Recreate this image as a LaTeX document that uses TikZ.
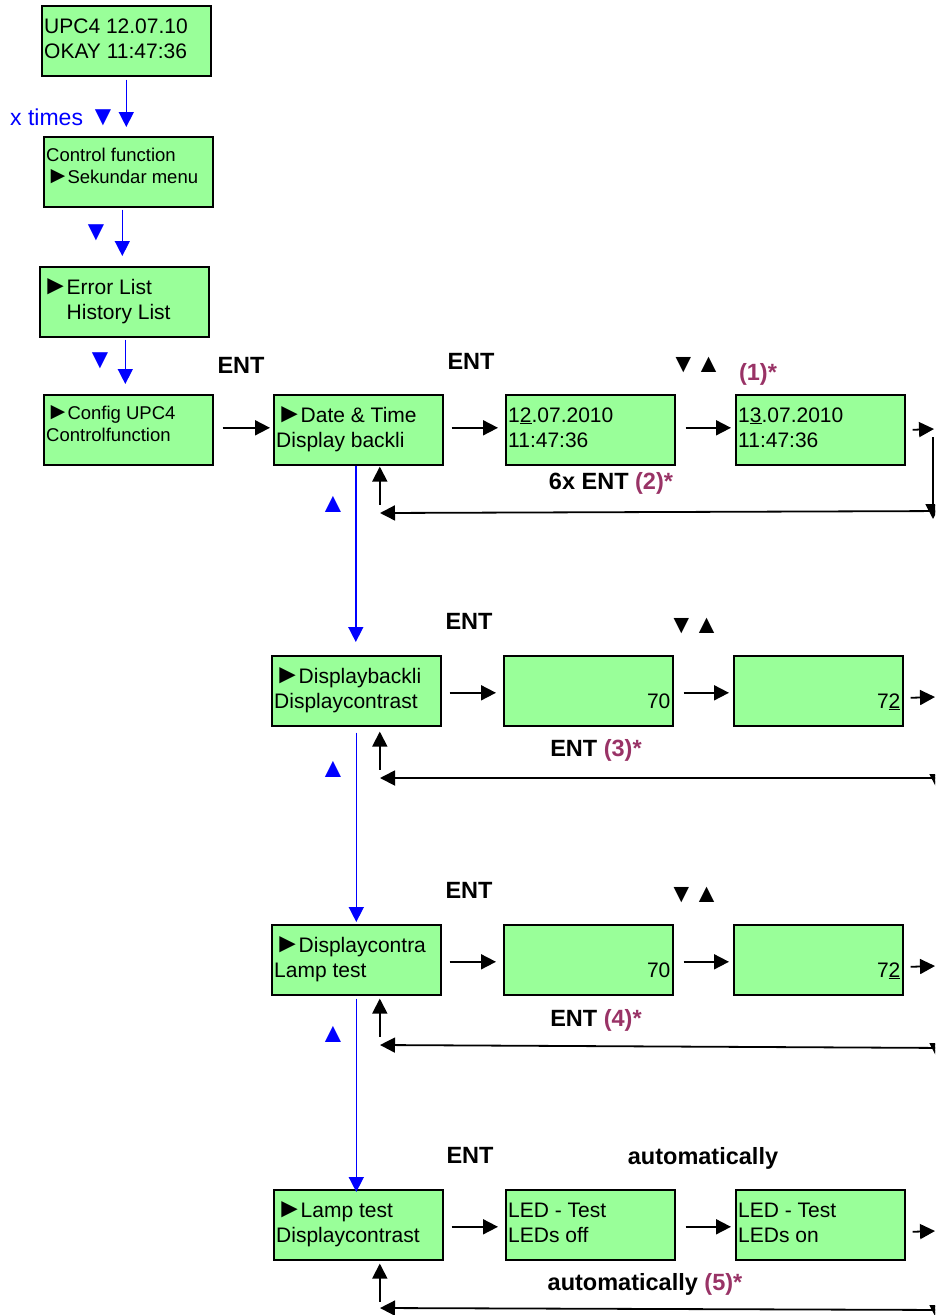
\documentclass[tikz,border=0pt]{standalone}
\usepackage{fontspec}
\setmainfont{Liberation Sans}
\usetikzlibrary{arrows.meta}

\definecolor{lcdgreen}{RGB}{153,255,153}
\definecolor{notecol}{RGB}{153,51,102}

\tikzset{
  lcd/.style={draw, line width=1.6pt, fill=lcdgreen, minimum width=169pt,
    minimum height=70pt, inner sep=0pt, anchor=north west},
  bigtext/.style={font=\fontsize{21}{25}\selectfont, inner sep=0pt, anchor=base west},
  smalltext/.style={font=\fontsize{18.5}{22}\selectfont, inner sep=0pt, anchor=base west},
  keylabel/.style={font=\fontsize{23.5}{27}\selectfont\bfseries, inner sep=0pt, anchor=base},
  bluemark/.style={text=blue, font=\fontsize{23}{25}\selectfont, inner sep=0pt, anchor=base},
  flow/.style={line width=1.8pt, -{Triangle[length=15pt,width=15pt]}},
  returnline/.style={line width=1.8pt, -{Triangle[length=15pt,width=15pt]}},
  navarrow/.style={blue, line width=1.5pt, -{Triangle[length=15pt,width=15pt]}},
}

% enlarged pointer and arrow-key glyphs
\newcommand\tri[2][1.2]{\scalebox{#1}{#2}}
\newcommand\pointer{\tri[1.3]{►}\kern-2.5pt}
\newcommand\updown{\tri[1.12]{▼}\kern-1pt\tri[1.12]{▲}}

% LCD screen with two lines of text (large or small characters)
\newcommand\lcdbig[4]{%
  \node[lcd] (#1) at (#2) {};
  \node[bigtext] (#1-1) at ([xshift=3pt,yshift=-28pt]#1.north west) {#3};
  \node[bigtext] (#1-2) at ([xshift=3pt,yshift=-53pt]#1.north west) {#4};
}
\newcommand\lcdsmall[4]{%
  \node[lcd] (#1) at (#2) {};
  \node[smalltext] (#1-1) at ([xshift=3pt,yshift=-25pt]#1.north west) {#3};
  \node[smalltext] (#1-2) at ([xshift=3pt,yshift=-47pt]#1.north west) {#4};
}
% LCD screen with one value in the lower right corner
\newcommand\lcdvalue[3]{%
  \node[lcd] (#1) at (#2) {};
  \node[bigtext, anchor=base east] (#1-v) at ([xshift=-3pt,yshift=-53pt]#1.north east) {#3};
}

\begin{document}
\begin{tikzpicture}[x=1pt, y=-1pt]
\useasboundingbox (0,0) rectangle (935,1315);
\clip (0,0) rectangle (935,1315);

% ---------- main menu column ----------
\lcdbig{A}{41,5}{UPC4 12.07.10}{OKAY 11:47:36}
\lcdsmall{B}{43,136}{Control function}{\pointer Sekundar menu}
\lcdbig{C}{39,266}{\pointer Error List}{\phantom{\pointer}History List}
\lcdsmall{D}{43,394}{\pointer Config UPC4}{Controlfunction}

\node[bluemark, anchor=base west] (xtimes) at (10,125) {x times \tri{▼}};
\node[bluemark] (dnB) at (96,240) {\tri{▼}};
\node[bluemark] (dnC) at (100,368) {\tri{▼}};

\draw[navarrow] ([yshift=-3pt]A.south) -- ([xshift=-2pt,yshift=9pt]B.north);
\draw[navarrow] ([xshift=-6pt,yshift=-2pt]B.south) -- ([xshift=-2pt,yshift=10pt]C.north);
\draw[navarrow] ([xshift=1pt,yshift=-2pt]C.south) -- ([xshift=-3pt,yshift=10pt]D.north);

% ---------- row 1: date and time ----------
\lcdbig{E}{273,394}{\pointer Date \& Time}{Display backli}
\lcdbig{F}{505,394}{1\underline{2}.07.2010}{11:47:36}
\lcdbig{G}{735,394}{1\underline{3}.07.2010}{11:47:36}

\node[keylabel] (ent1) at (241,373) {ENT};
\node[keylabel] (ent2) at (471,369) {ENT};
\node[keylabel] (ud1) at (696,372) {\updown};
\node[keylabel, text=notecol] (n1) at (758,380) {(1)*};
\node[keylabel] (ret1) at (611,489) {6x ENT \textcolor{notecol}{(2)*}};

\draw[flow] ([xshift=9pt,yshift=2pt]D.east) -- ([xshift=-3pt,yshift=2pt]E.west);
\draw[flow] ([xshift=8pt,yshift=2pt]E.east) -- ([xshift=-7pt,yshift=2pt]F.west);
\draw[flow] ([xshift=10pt,yshift=2pt]F.east) -- ([xshift=-4pt,yshift=2pt]G.west);
\coordinate (G-out) at (934,429);
\draw[flow] ([xshift=7pt]G.east) -- (G-out);
\coordinate (r1-top) at (933,437);
\coordinate (r1-bot) at (933,519);
\draw[returnline] (r1-top) -- (r1-bot);
\coordinate (r1-start) at (950,511);
\coordinate (r1-end) at (380,513);
\draw[returnline] (r1-start) -- (r1-end);
\draw[flow] ([xshift=21.5pt,yshift=-39pt]E.south) -- ([xshift=21.5pt,yshift=-1pt]E.south);

% ---------- row 2: display backlight ----------
\lcdbig{H}{271,655}{\pointer Displaybackli}{Displaycontrast}
\lcdvalue{I}{503,655}{70}
\lcdvalue{J}{733,655}{7\underline{2}}

\node[keylabel] (ent3) at (469,629) {ENT};
\node[keylabel] (ud2) at (694,633) {\updown};
\node[keylabel] (ret2) at (596,756) {ENT \textcolor{notecol}{(3)*}};

\draw[flow] ([xshift=8pt,yshift=-2pt]H.east) -- ([xshift=-7pt,yshift=-2pt]I.west);
\draw[flow] ([xshift=10pt,yshift=-2pt]I.east) -- ([xshift=-4pt,yshift=-2pt]J.west);
\coordinate (J-out) at (935,697);
\draw[flow] ([xshift=7pt,yshift=-7pt]J.east) -- (J-out);
\coordinate (r2-top) at (937,705);
\coordinate (r2-bot) at (937,789);
\draw[returnline] (r2-top) -- (r2-bot);
\coordinate (r2-start) at (950,778);
\coordinate (r2-end) at (380,778);
\draw[returnline] (r2-start) -- (r2-end);
\draw[flow] ([xshift=23.5pt,yshift=-43pt]H.south) -- ([xshift=23.5pt,yshift=-5pt]H.south);

% ---------- row 3: display contrast ----------
\lcdbig{K}{271,924}{\pointer Displaycontra}{Lamp test}
\lcdvalue{L}{503,924}{70}
\lcdvalue{M}{733,924}{7\underline{2}}

\node[keylabel] (ent4) at (469,898) {ENT};
\node[keylabel] (ud3) at (694,902) {\updown};
\node[keylabel] (ret3) at (596,1026) {ENT \textcolor{notecol}{(4)*}};

\draw[flow] ([xshift=8pt,yshift=-2pt]K.east) -- ([xshift=-7pt,yshift=-2pt]L.west);
\draw[flow] ([xshift=10pt,yshift=-2pt]L.east) -- ([xshift=-4pt,yshift=-2pt]M.west);
\coordinate (M-out) at (935,966);
\draw[flow] ([xshift=7pt,yshift=-7pt]M.east) -- (M-out);
\coordinate (r3-top) at (937,975);
\coordinate (r3-bot) at (937,1058);
\draw[returnline] (r3-top) -- (r3-bot);
\coordinate (r3-start) at (950,1048);
\coordinate (r3-end) at (380,1045);
\draw[returnline] (r3-start) -- (r3-end);
\draw[flow] ([xshift=23.5pt,yshift=-41pt]K.south) -- ([xshift=23.5pt,yshift=-3pt]K.south);

% ---------- row 4: lamp test ----------
\lcdbig{N}{273,1189}{\pointer Lamp test}{Displaycontrast}
\lcdbig{O}{505,1189}{LED - Test}{LEDs off}
\lcdbig{P}{735,1189}{LED - Test}{LEDs on}

\node[keylabel] (ent5) at (470,1163) {ENT};
\node[keylabel] (auto1) at (703,1164) {automatically};
\node[keylabel] (ret4) at (645,1290) {automatically \textcolor{notecol}{(5)*}};

\draw[flow] ([xshift=8pt,yshift=-2pt]N.east) -- ([xshift=-7pt,yshift=-2pt]O.west);
\draw[flow] ([xshift=10pt,yshift=-2pt]O.east) -- ([xshift=-4pt,yshift=-2pt]P.west);
\coordinate (P-out) at (935,1231);
\draw[flow] ([xshift=7pt,yshift=-7pt]P.east) -- (P-out);
\coordinate (r4-top) at (937,1240);
\coordinate (r4-bot) at (937,1320);
\draw[returnline] (r4-top) -- (r4-bot);
\coordinate (r4-start) at (950,1310);
\coordinate (r4-end) at (380,1308);
\draw[returnline] (r4-start) -- (r4-end);
\draw[flow] ([xshift=21.5pt,yshift=-41pt]N.south) -- ([xshift=21.5pt,yshift=-3pt]N.south);

% ---------- settings column (blue navigation) ----------
\draw[navarrow] ([xshift=-2.5pt]E.south) -- ([xshift=-0.5pt,yshift=13pt]H.north);
\draw[navarrow] ([yshift=-6pt]H.south) -- ([yshift=2pt]K.north);
\draw[navarrow] ([yshift=-3pt]K.south) -- ([xshift=-2pt,yshift=-3pt]N.north);
\node[bluemark] (upE) at (333,512) {\tri{▲}};
\node[bluemark] (upH) at (333,777) {\tri{▲}};
\node[bluemark] (upK) at (333,1042) {\tri{▲}};
\end{tikzpicture}
\end{document}
